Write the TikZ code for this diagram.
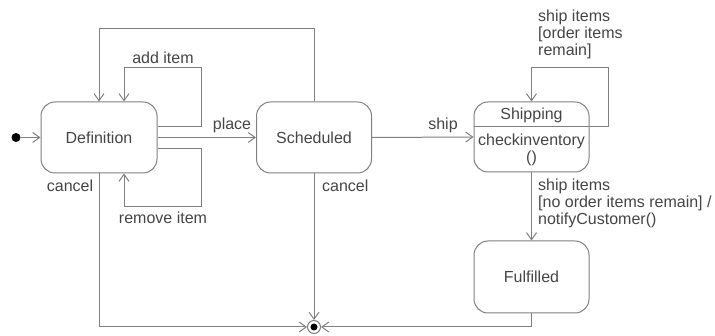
\documentclass[tikz,border=0pt]{standalone}
\usepackage{fontspec}
\setmainfont{Liberation Sans}
\usetikzlibrary{arrows.meta,calc}
\definecolor{linegray}{HTML}{808080}
\definecolor{textgray}{HTML}{454545}
\begin{document}
\begin{tikzpicture}[x=1pt,y=-1pt,
  every node/.style={font=\fontsize{16}{17}\selectfont, text=textgray},
  state/.style={draw=linegray, line width=1pt, rounded corners=14pt, inner sep=0pt},
  arr/.style={draw=linegray, line width=1pt, -{Straight Barb[length=7pt,width=10pt]}},
  lbl/.style={inner sep=0pt}]
\useasboundingbox (0,0) rectangle (715,336);
% states
\node[state, minimum width=116pt, minimum height=71pt] (def) at (99,137.5) {Definition};
\node[state, minimum width=115pt, minimum height=71pt] (sch) at (314,137.5) {Scheduled};
\node[state, minimum width=115pt, minimum height=70pt] (shp) at (531.5,137) {};
\draw[linegray, line width=1pt] ([yshift=10pt]shp.west) -- ([yshift=10pt]shp.east);
\node[lbl] (shpname) at (531.5,115) {Shipping};
\node[lbl] (shpact1) at (531.5,141) {checkinventory};
\node[lbl] (shpact2) at (531.5,158) {()};
\node[state, minimum width=115pt, minimum height=72pt] (ful) at (531.5,277) {Fulfilled};
% initial and final
\node[circle, fill=black, minimum size=9pt, inner sep=0pt] (init) at (16,137.5) {};
\node[circle, draw=linegray, line width=1pt, fill=white, minimum size=13pt, inner sep=0pt] (fin) at (314,327) {};
\node[circle, fill=black, minimum size=7pt, inner sep=0pt] (findot) at (fin.center) {};
% transitions
\draw[arr] (init) -- (def.west);
\draw[arr] (sch.north) -- ++(0,-73) -| (def.north);
\draw[arr] ([yshift=10.5pt]def.east) -- ++(44,0) -- ++(0,-59) -| ([xshift=25pt]def.north);
\node[lbl] (addlbl) at (163,58) {add item};
\draw[arr] ([yshift=-11.5pt]def.east) -- ++(44,0) -- ++(0,58) -| ([xshift=25pt]def.south);
\node[lbl] (remlbl) at (163,218) {remove item};
\draw[arr] (def.east) -- (sch.west);
\node[lbl] (placelbl) at (232,125) {place};
\draw[arr] (def.south) |- (fin.west);
\node[lbl] (cancel1) at (70,186) {cancel};
\draw[arr] (sch.south) -- (fin.north);
\node[lbl, anchor=west] (cancel2) at (322,186) {cancel};
\draw[arr] (sch.east) -- (shp.west);
\node[lbl] (shiplbl) at (443,125) {ship};
\draw[arr] ([yshift=10pt]shp.east) -- ++(19,0) -- ++(0,-59) -| (shp.north);
\node[lbl, anchor=north west, align=left] (looplbl) at (538,10) {ship items\\{}[order items\\remain]};
\draw[arr] (shp.south) -- (ful.north);
\node[lbl, anchor=north west, align=left] (donelbl) at (538,179) {ship items\\{}[no order items remain] /\\notifyCustomer()};
\draw[arr] (ful.south) |- (fin.east);
\end{tikzpicture}
\end{document}
